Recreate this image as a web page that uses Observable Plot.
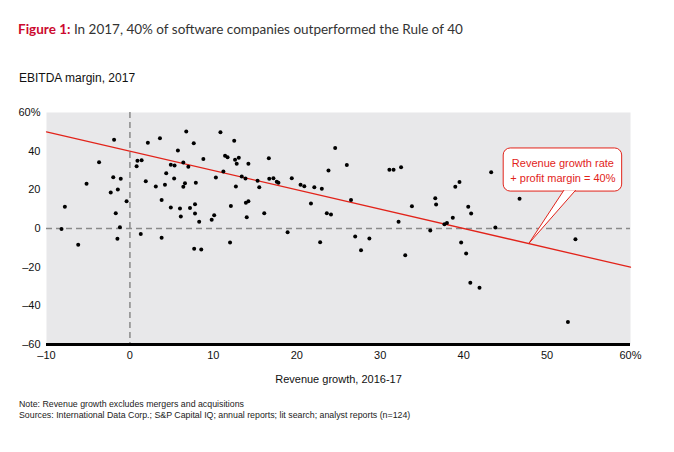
<!DOCTYPE html>
<html>
<head>
<meta charset="utf-8">
<script src="https://cdn.jsdelivr.net/npm/d3@7"></script>
<script src="https://cdn.jsdelivr.net/npm/@observablehq/plot@0.6"></script>
<style>
  html, body { margin: 0; padding: 0; background: #fff; }
  body { width: 674px; font-family: "Liberation Sans", Arial, sans-serif; color: #111; }
  #header { position: relative; height: 95px; }
  #title { position: absolute; left: 18px; top: 21px; font-family: Lato, "Open Sans", sans-serif; font-size: 13.5px; color: #333; white-space: nowrap; }
  #title b { color: #cc0a2f; font-weight: 700; }
  #subtitle { position: absolute; left: 19px; top: 71px; font-size: 12px; color: #111; white-space: nowrap; }
  #chart svg { display: block; }
  #notes { position: relative; height: 57px; font-size: 8.8px; color: #222; }
  #notes div { position: absolute; left: 19px; white-space: nowrap; }
</style>
</head>
<body>
<div id="header">
  <div id="title"><b>Figure 1:</b> In 2017, 40% of software companies outperformed the Rule of 40</div>
  <div id="subtitle">EBITDA margin, 2017</div>
</div>
<div id="chart"></div>
<div id="notes">
  <div style="top:4px">Note: Revenue growth excludes mergers and acquisitions</div>
  <div style="top:15px">Sources: International Data Corp.; S&amp;P Capital IQ; annual reports; lit search; analyst reports (n=124)</div>
</div>
<script>
// Revenue growth 2016-17 (%) for each company
const growth = [
  -1.9, -3.7, -5.2, -2.0, -1.1, -2.3, -1.45, -0.4, -7.8, -1.7, -8.2, -1.2, 1.3, 2.15, 3.6, 6.75, 0.9, 1.4, 0.8, 5.75,
  4.9, 5.35, 6.4, 4.35, 1.9, 3.1, 4.2, 5.3, 6.6, 6.4, 3.8, 4.9, 6.0, 7.2, 6.1, -6.2, -1.5, 3.8,
  7.65, 10.85, 12.5, 8.8, 7.0, 7.9, 11.4, 11.7, 12.6, 13.05, 12.8, 14.2, 11.2, 10.3, 13.4, 13.85, 12.7, 15.3, 15.5, 16.65,
  16.7, 17.2, 17.6, 17.8, 19.4, 20.45, 20.9, 22.1, 23.0, 23.8, 24.6, 7.8, 7.8, 8.3, 9.8, 10.1, 12.1, 13.9, 14.2, 14.0,
  16.1, 18.9, 21.7, 23.6, 24.1,
  7.7, 8.55, 12.0, 22.8,
  26.0, 26.5, 31.1, 31.6, 32.5, 33.8, 32.2, 36.0, 36.6, 36.7, 37.7, 38.0, 38.7, 39.0, 39.5, 40.55, 40.9,
  27.0, 28.7, 27.7, 33.0, 39.7, 40.3, 40.8, 41.9,
  43.3, 46.7, 43.8,
  53.4, 52.5
];
// EBITDA margin 2017 (%) for each company, same order
const ebitda = [
  45.9, 34.3, 23.1, 26.5, 25.7, 18.6, 20.2, 14.1, 11.2, 7.9, -0.2, 0.7, -2.8, 44.3, 46.7, 50.2, 35.0, 35.3, 32.2, 40.3,
  33.0, 32.6, 34.1, 28.6, 24.5, 21.7, 22.6, 25.9, 23.4, 21.6, 14.8, 10.9, 10.3, 10.6, 6.2, -8.4, -5.3, -4.8,
  44.1, 49.8, 45.4, 35.9, 31.9, 23.6, 37.6, 36.9, 35.5, 36.6, 33.5, 33.5, 29.5, 26.4, 26.9, 25.9, 21.7, 24.7, 21.4, 36.4,
  25.7, 26.0, 24.2, 23.6, 26.0, 22.6, 21.9, 21.4, 20.5, 30.0, 41.7, 12.6, 7.8, 3.5, 4.5, 6.9, 11.7, 13.3, 14.1, 5.8,
  7.9, -1.9, 12.9, 7.9, 7.2,
  -10.5, -10.9, -7.2, -7.1,
  32.9, 14.7, 30.4, 30.4, 31.7, 11.5, 3.5, -1.0, 15.7, 12.4, 2.2, 2.9, 5.5, 21.6, 24.0, 11.2, 7.8,
  -4.1, -5.2, -11.2, -13.8, -7.2, -12.9, -28.1, -30.7,
  29.1, 15.4, 0.5,
  -5.5, -48.3
];
const xTicks = [-10, 0, 10, 20, 30, 40, 50, 60];
const yTicks = [-60, -40, -20, 0, 20, 40, 60];
const ruleOf40 = 40;               // growth + margin = 40
const ruleX = [-10, 60];           // extent of the Rule of 40 line
const calloutText = ["Revenue growth rate", "+ profit margin = 40%"];
const calloutBox = {x1: 44.8, x2: 59.0, y1: 19.1, y2: 41.4};   // in data units
const calloutTip = {x: 47.8, y: -7.8};                          // on the line
const calloutBase = [52.0, 53.4];                               // tail base x

const companies = growth.map((g, i) => ({g, m: ebitda[i]}));
const rulePts = ruleX.map(x => ({x, y: ruleOf40 - x}));
const tail = [
  {x: calloutBase[0], y: calloutBox.y1 + 0.6},
  {x: calloutTip.x, y: calloutTip.y},
  {x: calloutBase[1], y: calloutBox.y1 + 0.6}
];
const fmtX = d => d === 60 ? "60%" : d < 0 ? "\u2013" + (-d) : String(d);
const fmtY = d => d === 60 ? "60%" : d < 0 ? "\u2013" + (-d) : String(d);
const red = "#e2231a";

const chart = Plot.plot({
  width: 674,
  height: 300,
  marginTop: 17,
  marginBottom: 51,
  marginLeft: 46,
  marginRight: 44,
  style: {fontFamily: "'Liberation Sans', Arial, sans-serif", fontSize: "11px", color: "#111", background: "transparent"},
  x: {domain: [-10, 60], ticks: xTicks, tickFormat: fmtX, tickSize: 0, tickPadding: 7, label: null},
  y: {domain: [-60, 60], ticks: yTicks, tickFormat: fmtY, tickSize: 0, tickPadding: 6, label: null},
  marks: [
    Plot.frame({fill: "#e8e8ea", stroke: null}),
    Plot.ruleY([0], {stroke: "#8a8a8a", strokeWidth: 1.5, strokeDasharray: "6,4"}),
    Plot.ruleX([0], {stroke: "#8a8a8a", strokeWidth: 1.5, strokeDasharray: "6,4"}),
    Plot.ruleY([-60], {stroke: "#000", strokeWidth: 3}),
    Plot.line(rulePts, {x: "x", y: "y", stroke: red, strokeWidth: 1.3}),
    Plot.dot(companies, {x: "g", y: "m", r: 2, fill: "#000", stroke: null}),
    Plot.rect([calloutBox], {x1: "x1", x2: "x2", y1: "y1", y2: "y2", fill: "#fff", stroke: red, strokeWidth: 1, rx: 7}),
    Plot.line(tail, {x: "x", y: "y", fill: "#fff", stroke: red, strokeWidth: 1}),
    Plot.text([calloutText.join("\n")], {
      x: (calloutBox.x1 + calloutBox.x2) / 2, y: (calloutBox.y1 + calloutBox.y2) / 2,
      text: d => d, fill: red, fontSize: 11, lineHeight: 1.3
    }),
    Plot.text(["Revenue growth, 2016-17"], {
      frameAnchor: "bottom", dy: 38, text: d => d, fontSize: 11, fill: "#111"
    })
  ]
});
document.getElementById("chart").appendChild(chart);
</script>
</body>
</html>
